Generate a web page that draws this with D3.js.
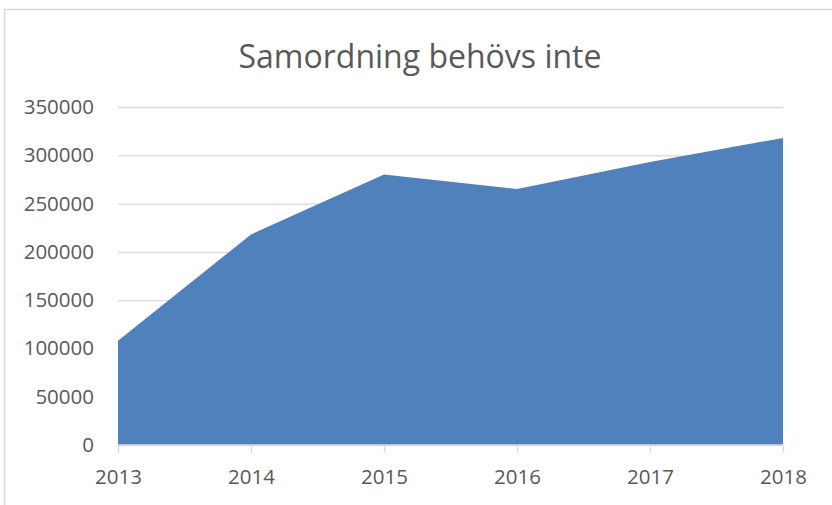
<!DOCTYPE html>
<html>
<head>
<meta charset="utf-8">
<script src="https://cdn.jsdelivr.net/npm/d3@7"></script>
<style>
  body { margin: 0; background: #fff; }
  svg { display: block; }
</style>
</head>
<body>
<div class="chart-container"></div>
<script>
// Data.
const years = ["2013", "2014", "2015", "2016", "2017", "2018"];
const values = [108000, 218000, 280000, 265000, 293000, 318000];
const yTicks = [0, 50000, 100000, 150000, 200000, 250000, 300000, 350000];
const title = "Samordning behövs inte";

const data = years.map((y, i) => ({ year: y, value: values[i] }));

// Layout.
const W = 832;
const H = 505;
const margin = { top: 107, right: 49, bottom: 60, left: 118 };
const width = W - margin.left - margin.right;
const height = H - margin.top - margin.bottom;
const font = "'Open Sans', Lato, sans-serif";

const svg = d3
  .select(".chart-container")
  .append("svg")
  .attr("width", W)
  .attr("height", H);

// Chart frame.
svg
  .append("rect")
  .attr("x", 4.5)
  .attr("y", 9.5)
  .attr("width", W + 20)
  .attr("height", H + 20)
  .style("fill", "#fff")
  .style("stroke", "#d9d9d9")
  .style("stroke-width", 1.5);

const g = svg
  .append("g")
  .attr("transform", `translate(${margin.left}, ${margin.top})`);

// Scales.
const xScale = d3.scalePoint().domain(years).range([0, width]);
const yScale = d3.scaleLinear().domain([0, 350000]).range([height, 0]);

// Gridlines + y labels.
const yAxis = d3
  .axisLeft(yScale)
  .tickValues(yTicks)
  .tickFormat(d3.format("d"))
  .tickSize(-width)
  .tickPadding(24);

const yAxisDraw = g.append("g").attr("class", "y axis").call(yAxis);
yAxisDraw.select(".domain").remove();
yAxisDraw
  .selectAll("line")
  .style("stroke", "#d9d9d9")
  .style("stroke-width", 1.3);
yAxisDraw
  .selectAll("text")
  .style("font-family", font)
  .style("font-size", "20.5px")
  .style("fill", "#595959");

// Area.
const area = d3
  .area()
  .x((d) => xScale(d.year))
  .y0(yScale(0))
  .y1((d) => yScale(d.value));

g.append("path")
  .datum(data)
  .attr("d", area)
  .style("fill", "#4f81bd");

// X axis.
const xAxis = d3.axisBottom(xScale).tickSize(8).tickPadding(16);
const xAxisDraw = g
  .append("g")
  .attr("class", "x axis")
  .attr("transform", `translate(0, ${height})`)
  .call(xAxis);
xAxisDraw
  .select(".domain")
  .attr("d", `M0,0H${width}`)
  .style("stroke", "#d9d9d9")
  .style("stroke-width", 1.3);
xAxisDraw
  .selectAll("line")
  .style("stroke", "#d9d9d9")
  .style("stroke-width", 1.3);
xAxisDraw
  .selectAll("text")
  .style("font-family", font)
  .style("font-size", "20.5px")
  .style("fill", "#595959");

// Title.
svg
  .append("text")
  .attr("x", 420)
  .attr("y", 68)
  .attr("text-anchor", "middle")
  .style("font-family", font)
  .style("font-size", "32px")
  .style("fill", "#595959")
  .text(title);
</script>
</body>
</html>
